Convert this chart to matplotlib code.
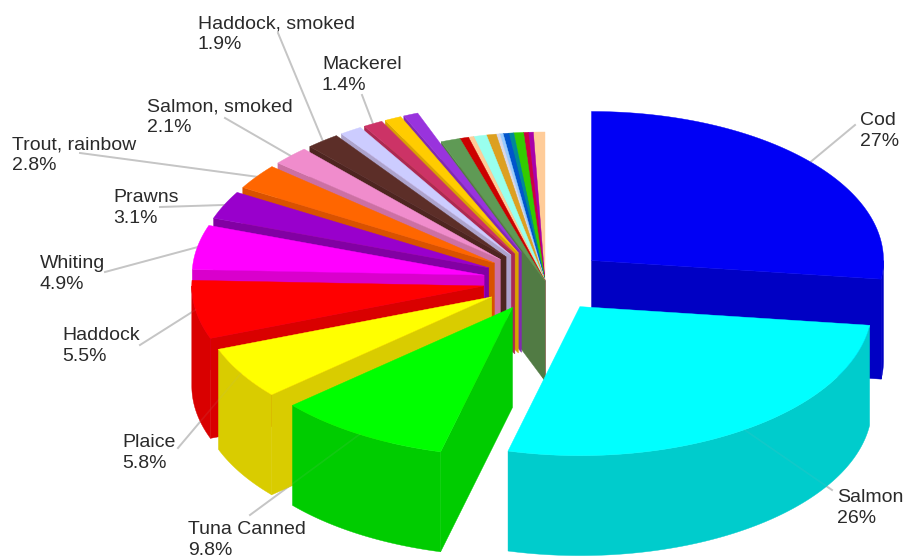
import numpy as np
import matplotlib
matplotlib.use("Agg")
import matplotlib.pyplot as plt
from matplotlib.colors import to_rgb

# Share of each species, clockwise from twelve o'clock
species = ["Cod", "Salmon", "Tuna Canned", "Plaice", "Haddock", "Whiting", "Prawns",
           "Trout, rainbow", "Salmon, smoked", "Haddock, smoked", "", "Mackerel", "", "",
           "", "", "", "", "", "", "", "", "", "", "", "", ""]
shares = [27, 26, 9.8, 5.8, 5.5, 4.9, 3.1, 2.8, 2.1, 1.9, 1.6, 1.4, 1.2, 1.0,
          1.1, 0.5, 0.3, 0.73, 0.55, 0.2, 0.19, 0.33, 0.27, 0.55, 0.27, 0.28, 0.65]
share_text = ["27%", "26%", "9.8%", "5.8%", "5.5%", "4.9%", "3.1%", "2.8%", "2.1%", "1.9%",
              "", "1.4%", "", "", "", "", "", "", "", "", "", "", "", "", "", "", ""]
colours = ["#0000F5", "#00FFFF", "#00FF00", "#FFFF00", "#FF0000", "#FF00FF", "#9900CC",
           "#FF6600", "#F08CCC", "#5C2E28", "#CCCCFF", "#CC3366", "#FFCC00", "#9933DD",
           "#5F9A55", "#CC0000", "#FFCC99", "#99FFEE", "#DDA020", "#D8D8E8", "#99CCFF",
           "#0055CC", "#008899", "#33CC00", "#CC0044", "#AA00AA", "#FFCC99"]
pulled_out = [True] * 14 + [False] * 13

# Label placement: left-middle anchor of each text block and start of its leader
label_xy = {"Cod": (860, 131), "Salmon": (837, 508), "Tuna Canned": (188, 540),
            "Plaice": (122, 453), "Haddock": (62, 346), "Whiting": (40, 274),
            "Prawns": (113, 208), "Trout, rainbow": (12, 155), "Salmon, smoked": (147, 117),
            "Haddock, smoked": (198, 34), "Mackerel": (322, 75)}
leader_start = {"Cod": (855, 125), "Salmon": (832, 490), "Tuna Canned": (250, 515),
                "Plaice": (178, 448), "Haddock": (140, 345), "Whiting": (105, 272),
                "Prawns": (160, 207), "Trout, rainbow": (80, 153),
                "Salmon, smoked": (225, 118), "Haddock, smoked": (278, 33),
                "Mackerel": (362, 95)}

# Projection of the tilted disc, in pixels
CX, CY = 545.0, 281.0
RX, RY = 292.0, 149.0
DEPTH = 100.0
PULL = 62.0
# Small perspective shift of the rim angle around the disc (degrees)
view_in = [0, 97, 191, 247, 267, 320, 338, 360]
view_shift = [0, 0, 3.5, 2.5, 5.5, 4.5, 0.5, 0]
SHADE = np.array([0.85, 0.8, 0.8])


def view_angle(deg):
    return deg + np.interp(deg, view_in, view_shift)


def rim(center, deg):
    t = np.radians(deg)
    return center[0] + RX * np.sin(t), center[1] - RY * np.cos(t)


fig = plt.figure(figsize=(9.04, 5.59), dpi=100, facecolor="white")
ax = fig.add_axes([0, 0, 1, 1])
ax.set_xlim(0, 904)
ax.set_ylim(559, 0)
ax.axis("off")

total = sum(shares)
edges = np.concatenate([[0], np.cumsum(shares)]) / total * 360.0
slices = []
for i, share in enumerate(shares):
    a0, a1 = view_angle(edges[i]), view_angle(edges[i + 1])
    mid = 0.5 * (a0 + a1)
    t = np.radians(mid)
    pull = PULL if pulled_out[i] else 0.0
    apex = (CX + pull * np.sin(t), CY - 0.5 * pull * np.cos(t))
    slices.append({"i": i, "a0": a0, "a1": a1, "mid": mid, "apex": apex})


def face(xy, colour, z):
    ax.fill(*zip(*xy), facecolor=colour, edgecolor=colour, linewidth=0.3, zorder=z)


def wall(p, q, colour, z):
    face([p, q, (q[0], q[1] + DEPTH), (p[0], p[1] + DEPTH)], colour, z)


# Back slices first, so the nearer ones cover them
z = 10
for s in sorted(slices, key=lambda s: -np.cos(np.radians(s["mid"]))):
    top = np.array(to_rgb(colours[s["i"]]))
    side = tuple(top * SHADE)
    a0, a1, apex = s["a0"], s["a1"], s["apex"]
    angles = np.linspace(a0, a1, max(3, int(a1 - a0) * 2 + 2))
    arc = [rim(apex, a) for a in angles]
    if np.sin(np.radians(a0)) < 0:
        wall(apex, rim(apex, a0), side, z)
    if np.sin(np.radians(a1)) > 0:
        wall(apex, rim(apex, a1), side, z)
    lo, hi = max(a0, 90), min(a1, 270)
    if hi > lo:
        front = [rim(apex, a) for a in np.linspace(lo, hi, max(3, int(hi - lo) * 2 + 2))]
        low = [(x, y + DEPTH) for x, y in reversed(front)]
        face(front + low, side, z)
    face([apex] + arc, tuple(top), z + 0.5)
    z += 1

# Labels with grey leaders that run to the middle of each slice's rim
for s in slices:
    name = species[s["i"]]
    if not name:
        continue
    end = rim(s["apex"], s["mid"])
    start = leader_start[name]
    xs, ys = [start[0], end[0]], [start[1], end[1]]
    ax.plot(xs, ys, color="#c8c8c8", lw=1.4, zorder=5)
    ax.plot(xs, ys, color="#b0b0b0", lw=1.2, alpha=0.1, zorder=60)
    x, y = label_xy[name]
    ax.text(x, y, f"{name}\n{share_text[s['i']]}", family="Liberation Sans", fontsize=14,
            color="#2a2a2a", ha="left", va="center", linespacing=1.3, zorder=70)

fig.savefig("out.png", dpi=100)
